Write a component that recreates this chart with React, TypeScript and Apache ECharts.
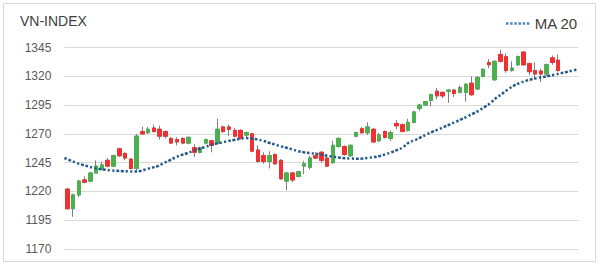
import React, { useEffect, useRef } from "react";
import * as echarts from "echarts";

// Daily candles: [open, close, low, high]
const opens = [1222, 1205, 1217, 1230, 1229, 1236, 1239, 1247, 1242, 1257, 1253, 1248, 1240, 1272, 1271, 1275, 1274, 1272, 1266, 1265, 1266, 1262, 1258, 1254, 1262, 1264, 1262, 1276, 1276, 1273, 1273, 1269, 1270, 1256, 1251, 1246, 1252, 1247, 1229, 1236, 1233, 1242, 1241, 1251, 1254, 1249, 1245, 1259, 1259, 1251, 1268, 1274.5, 1271, 1274, 1264, 1272, 1266, 1279, 1278, 1273, 1280, 1292, 1295, 1299, 1307, 1306, 1307, 1308, 1306, 1306, 1314, 1309, 1320, 1332, 1317, 1339, 1337, 1325, 1330, 1341, 1331, 1325, 1324.5, 1322, 1336, 1334];
const closes = [1205, 1217, 1229, 1228, 1236, 1242, 1243, 1242, 1251, 1251, 1249, 1240, 1268, 1270, 1274, 1272, 1268, 1268, 1262, 1263, 1262, 1267, 1254, 1258, 1265, 1260, 1274, 1272, 1274, 1268, 1266, 1271, 1255, 1246, 1246, 1251, 1244, 1231, 1236, 1230, 1237, 1244, 1249, 1249, 1247, 1242, 1260, 1266, 1252, 1260, 1271, 1271, 1276, 1263, 1269, 1267, 1271, 1277, 1272, 1280, 1289, 1295, 1298, 1304, 1303, 1303, 1308, 1305, 1310, 1313, 1304, 1319, 1326, 1330, 1333, 1333, 1325, 1327, 1337, 1330, 1324, 1322, 1322, 1330, 1332, 1325];
const lows = [1204, 1198, 1215, 1227, 1228, 1236, 1239, 1241, 1241, 1250, 1247, 1239, 1238, 1269, 1270, 1271, 1265, 1266, 1261, 1260, 1261, 1261, 1250, 1253, 1261, 1254, 1261, 1271, 1268, 1267, 1265, 1266, 1254, 1245, 1244, 1240, 1243, 1230, 1221, 1228, 1232, 1235, 1239, 1248, 1245, 1241, 1244, 1258, 1251, 1250, 1267, 1270, 1269, 1262, 1263, 1266, 1264, 1274, 1272, 1272, 1279, 1290, 1294.5, 1294, 1300, 1301, 1297, 1302, 1305, 1298, 1303, 1308, 1319, 1327, 1316, 1332, 1323, 1324, 1329, 1329, 1321, 1317, 1315, 1320, 1330, 1324];
const highs = [1223, 1218, 1230, 1233, 1237, 1247, 1246, 1249, 1252, 1258, 1254, 1249, 1270, 1276, 1276, 1278, 1277, 1273, 1267, 1267, 1267, 1267.5, 1261, 1259, 1266, 1265, 1283, 1277, 1278, 1275, 1274, 1272, 1271, 1260, 1254, 1255, 1253, 1248, 1237, 1237, 1238, 1246.5, 1251, 1254, 1255, 1252, 1264, 1267, 1260, 1261, 1272, 1276, 1280, 1275, 1271, 1273, 1273, 1282, 1279, 1283, 1290, 1296, 1298.5, 1305, 1310, 1307, 1309, 1309, 1312, 1314, 1320, 1320, 1327, 1335, 1334, 1343, 1340, 1333, 1338, 1342, 1332, 1332, 1326.5, 1331, 1338, 1339];

// 20-day moving average
const ma20 = [1249, 1247, 1245, 1243.3, 1241.8, 1240.4, 1239.5, 1238.8, 1238.2, 1237.9, 1237.6, 1237.4, 1237.3, 1237.8, 1239.2, 1240.6, 1242, 1244.6, 1247, 1249.5, 1251.5, 1253.2, 1255, 1256.8, 1258.5, 1260.2, 1261.5, 1262.6, 1263.7, 1264.7, 1265.6, 1266.3, 1266, 1265.2, 1264, 1262.3, 1260.8, 1259.2, 1258, 1256.5, 1255, 1254, 1253.3, 1252.7, 1252, 1251, 1250.2, 1249.4, 1248.9, 1248.6, 1248.4, 1248.6, 1249.2, 1249.8, 1250.8, 1252.3, 1254, 1256, 1258.5, 1262.5, 1264.5, 1267, 1269.5, 1271.8, 1273.8, 1276, 1278.3, 1280.5, 1282.7, 1285.2, 1287.7, 1290.3, 1293.5, 1297, 1301.5, 1305, 1308.8, 1312, 1314.2, 1316, 1317.4, 1318.5, 1319.5, 1320.4, 1321.5, 1322.7, 1323.8, 1325, 1326];

const yTicks = [1170, 1195, 1220, 1245, 1270, 1295, 1320, 1345];
const days = opens.map((_, i) => String(i + 1));
const maDays = ma20.map((_, i) => String(i + 1));

const UP = "#4caf50";
const DOWN = "#f23030";
const WICK = "#7f7f7f";
const MA = "#22598a";

export default function App() {
  const ref = useRef<HTMLDivElement>(null);
  useEffect(() => {
    if (!ref.current) return;
    const chart = echarts.init(ref.current, null, { renderer: "svg" });
    const wickData = opens.map((o, i) => [o, closes[i], lows[i], highs[i]]);
    const bodyData = opens.map((o, i) => [o, closes[i], Math.min(o, closes[i]), Math.max(o, closes[i])]);
    chart.setOption({
      animation: false,
      backgroundColor: "#ffffff",
      title: {
        text: "VN-INDEX",
        left: 15,
        top: 9,
        textStyle: { fontFamily: "Liberation Sans", fontSize: 14, fontWeight: "normal", color: "#404040" },
      },
      legend: {
        right: 17,
        top: 11,
        itemWidth: 24,
        itemHeight: 2.5,
        itemGap: 8,
        icon: "path://M0,0h3v3h-3zM5,0h3v3h-3zM10,0h3v3h-3zM15,0h3v3h-3zM20,0h3v3h-3zM25,0h3v3h-3z",
        data: ["MA 20"],
        itemStyle: { color: "#4f86b8" },
        textStyle: { fontFamily: "Liberation Sans", fontSize: 15, color: "#404040" },
      },
      graphic: [
        {
          type: "rect",
          shape: { x: 3.5, y: 3.5, width: 592, height: 258 },
          style: { fill: "none", stroke: "#d9d9d9", lineWidth: 1 },
          silent: true,
        },
      ],
      grid: { left: 64.4, right: 21.6, top: 47.5, bottom: 20, containLabel: false },
      xAxis: [
        {
          type: "category",
          data: days,
          boundaryGap: true,
          max: days.length + 2,
          axisLine: { show: false },
          axisTick: { show: false },
          axisLabel: { show: false },
          splitLine: { show: false },
        },
        {
          type: "category",
          data: maDays,
          boundaryGap: false,
          show: false,
        },
      ],
      yAxis: {
        type: "value",
        min: yTicks[0],
        max: yTicks[yTicks.length - 1],
        interval: 25,
        axisLine: { show: false },
        axisTick: { show: false },
        axisLabel: {
          fontFamily: "Liberation Sans",
          fontSize: 12,
          color: "#595959",
          margin: 13,
          formatter: (v: number) => String(v),
        },
        splitLine: { lineStyle: { color: "#d9d9d9", width: 1 } },
      },
      series: [
        {
          type: "candlestick",
          name: "wick",
          xAxisIndex: 0,
          data: wickData,
          barWidth: 4,
          itemStyle: { color: WICK, color0: WICK, borderColor: WICK, borderColor0: WICK, borderWidth: 1 },
          z: 2,
        },
        {
          type: "candlestick",
          name: "body",
          xAxisIndex: 0,
          data: bodyData,
          barWidth: 4,
          itemStyle: { color: UP, color0: DOWN, borderColor: UP, borderColor0: DOWN, borderWidth: 1 },
          z: 3,
        },
        {
          type: "line",
          name: "MA 20",
          xAxisIndex: 1,
          data: ma20,
          smooth: true,
          symbol: "none",
          lineStyle: { color: MA, width: 2.5, type: [2.5, 2] },
          itemStyle: { color: MA },
          z: 5,
        },
      ],
    });
    return () => chart.dispose();
  }, []);
  return <div ref={ref} style={{ position: "fixed", left: 0, top: 0, width: 600, height: 269 }} />;
}
